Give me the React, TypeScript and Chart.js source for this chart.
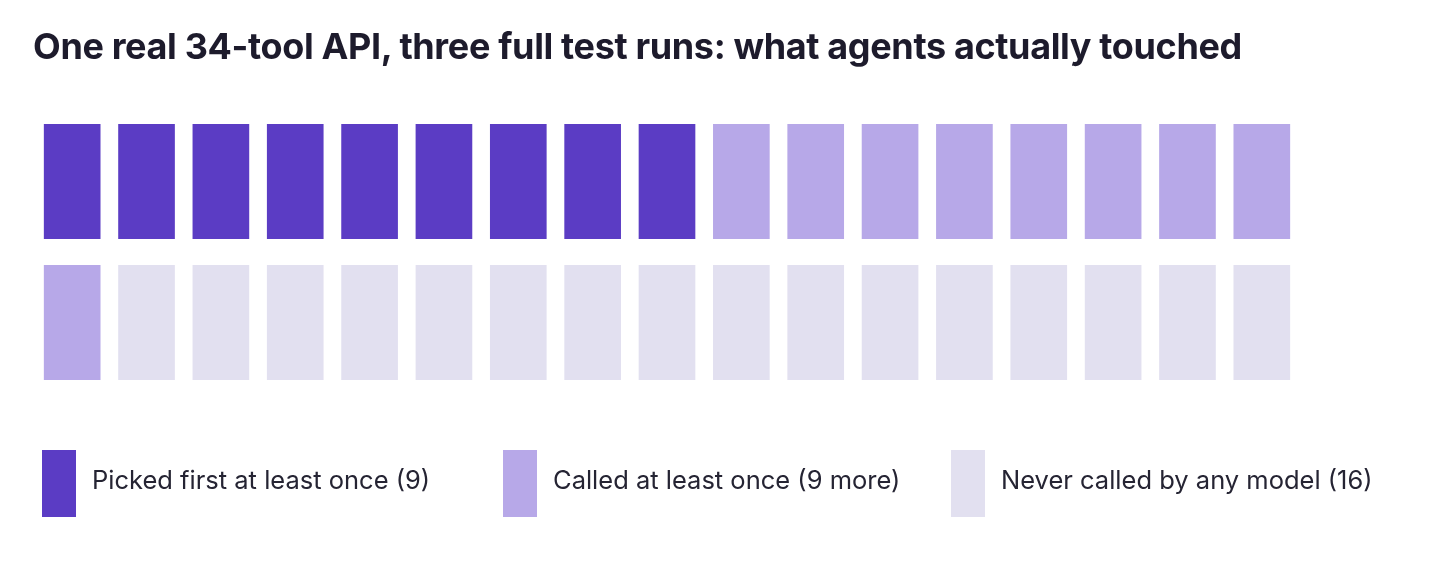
import React, { useEffect, useRef } from 'react';
import { Chart, registerables } from 'chart.js';

Chart.register(...registerables);

// Tool status buckets (34 tools total)
const categories = ['Picked first at least once', 'Called at least once', 'Never called by any model'];
const toolCounts = [9, 9, 16];
const countNotes = ['(9)', '(9 more)', '(16)'];
const colors = ['#5b3cc4', '#b7a8e8', '#e2e0f0'];

const columns = 17;
const rowLabels = ['top', 'bottom'];

const title = 'One real 34-tool API, three full test runs: what agents actually touched';

// expand counts into one status index per tool
const cells: number[] = [];
toolCounts.forEach((n, i) => {
  for (let k = 0; k < n; k++) cells.push(i);
});

const legendLeft = [42, 503, 951];

export default function App() {
  const canvasRef = useRef<HTMLCanvasElement>(null);

  useEffect(() => {
    if (!canvasRef.current) return;
    const pad = 12 / 141;
    const labels = Array.from({ length: columns }, (_, i) => String(i + 1));

    const datasets = rowLabels.map((row, r) => {
      const rowCells = cells.slice(r * columns, (r + 1) * columns);
      const base = rowLabels.length - 1 - r;
      return {
        label: row,
        data: rowCells.map(() => [base + pad, base + 1 - pad] as [number, number]),
        backgroundColor: rowCells.map(c => colors[c]),
        borderColor: 'rgba(255, 255, 255, 0.55)',
        borderWidth: 1,
        borderSkipped: false,
        grouped: false,
        barPercentage: 0.789,
        categoryPercentage: 1,
      };
    });

    const chart = new Chart(canvasRef.current, {
      type: 'bar',
      data: { labels, datasets },
      options: {
        responsive: true,
        maintainAspectRatio: false,
        animation: false,
        layout: { padding: { left: 35, right: 141, top: 111, bottom: 187 } },
        plugins: {
          legend: { display: false },
          tooltip: { enabled: false },
        },
        scales: {
          x: { type: 'category', offset: true, display: false },
          y: { min: 0, max: 2, display: false },
        },
      },
    });

    return () => {
      chart.destroy();
    };
  }, []);

  return (
    <div style={{ position: 'fixed', left: 0, top: 0, width: 1440, height: 580, background: '#ffffff', fontFamily: 'Inter, sans-serif' }}>
      <canvas ref={canvasRef} style={{ position: 'absolute', left: 0, top: 0 }}></canvas>
      <div style={{ position: 'absolute', left: 0, top: 0, width: 1440, height: 580 }}>
        <div style={{ position: 'absolute', left: 33, top: 28, fontSize: 36, lineHeight: '36px', fontWeight: 700, color: '#1d1b2c', whiteSpace: 'nowrap', letterSpacing: '-0.36px' }}>
          {title}
        </div>
        {categories.map((cat, i) => (
          <React.Fragment key={cat}>
            <div style={{ position: 'absolute', left: legendLeft[i], top: 450, width: 34, height: 67, background: colors[i] }}></div>
            <div style={{ position: 'absolute', left: legendLeft[i] + 50, top: 467, fontSize: 25.5, lineHeight: '25.5px', color: '#252433', whiteSpace: 'nowrap' }}>
              {cat} {countNotes[i]}
            </div>
          </React.Fragment>
        ))}
      </div>
    </div>
  );
}
